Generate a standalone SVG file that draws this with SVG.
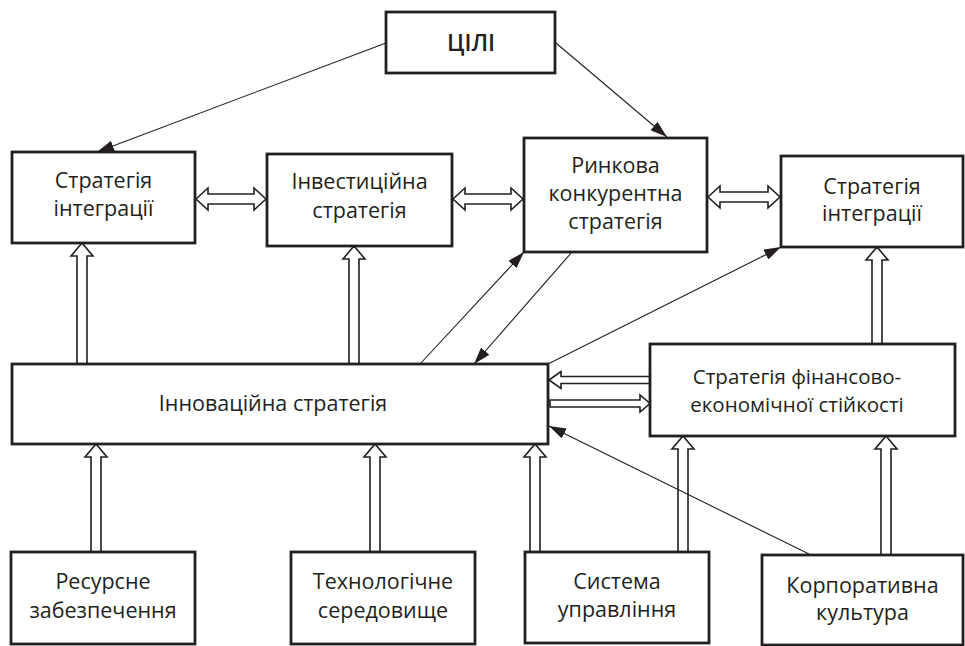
<svg xmlns="http://www.w3.org/2000/svg" width="965" height="646" viewBox="0 0 965 646">
<defs>
<style>
.box{fill:#fff;stroke:#231f20;stroke-width:2.8}
.t{font-family:"Open Sans","Noto Sans","Liberation Sans",sans-serif;font-size:21.5px;fill:#231f20;text-anchor:middle}
.s{font-size:20.5px}
.h{font-weight:600;font-size:23px}
.ha{fill:#fff;stroke:#231f20;stroke-width:1.6;stroke-linejoin:miter}
.ln{fill:none;stroke:#231f20;stroke-width:1.1;marker-end:url(#ah)}
</style>
<marker id="ah" markerUnits="userSpaceOnUse" markerWidth="17" markerHeight="11" refX="17" refY="5.5" orient="auto">
<path d="M0,0 L17,5.5 L0,11 Z" fill="#231f20"/>
</marker>
</defs>
<rect width="965" height="646" fill="#fff"/>
<g id="connectors">
<!-- hollow vertical arrows -->
<path class="ha" d="M77,364 V256 H71 L82,243 L93,256 H87 V364 Z"/>
<path class="ha" d="M349,364 V259 H343 L354,246 L365,259 H359 V364 Z"/>
<path class="ha" d="M872,344 V260 H866 L877,247 L888,260 H882 V344 Z"/>
<path class="ha" d="M91,552 V457 H85 L96,444 L107,457 H101 V552 Z"/>
<path class="ha" d="M370,552 V457 H364 L375,444 L386,457 H380 V552 Z"/>
<path class="ha" d="M530,552 V457 H524 L535,444 L546,457 H540 V552 Z"/>
<path class="ha" d="M678,552 V449 H672 L683,436 L694,449 H688 V552 Z"/>
<path class="ha" d="M881,555 V449 H875 L886,436 L897,449 H891 V555 Z"/>
<!-- hollow double horizontal arrows -->
<path class="ha" d="M196,199 L208,188 V194 H254 V188 L266,199 L254,210 V204 H208 V210 Z"/>
<path class="ha" d="M453,199 L465,188 V194 H511 V188 L523,199 L511,210 V204 H465 V210 Z"/>
<path class="ha" d="M708,197 L720,186 V192 H768 V186 L780,197 L768,208 V202 H720 V208 Z"/>
<!-- innovation / finance arrows -->
<path class="ha" d="M549,380 L561,371.5 V376.5 H650 V383.5 H561 V388.5 Z"/>
<path class="ha" d="M550,400 H640 V395 L650,403.5 L640,412 V407 H550 Z"/>
<!-- thin arrows -->
<line class="ln" x1="386" y1="43" x2="97" y2="152"/>
<line class="ln" x1="556" y1="43" x2="667" y2="137"/>
<line class="ln" x1="420" y1="364" x2="524" y2="252"/>
<line class="ln" x1="572" y1="252" x2="474" y2="364"/>
<line class="ln" x1="548" y1="364" x2="781" y2="247"/>
<line class="ln" x1="809" y1="554" x2="549" y2="426"/>
</g>
<g id="goals"><rect class="box" x="386" y="12" width="169" height="61"/><text class="t h" x="471" y="51">ЦІЛІ</text></g>
<g id="integration1"><rect class="box" x="12" y="152" width="183" height="91"/><text class="t" x="103.5" y="188">Стратегія</text><text class="t" x="103.5" y="216">інтеграції</text></g>
<g id="investment"><rect class="box" x="267" y="154" width="185" height="92"/><text class="t" x="359.5" y="189">Інвестиційна</text><text class="t" x="359.5" y="218">стратегія</text></g>
<g id="market"><rect class="box" x="524" y="138" width="183" height="114"/><text class="t" x="615.5" y="173">Ринкова</text><text class="t" x="615.5" y="201">конкурентна</text><text class="t" x="615.5" y="229">стратегія</text></g>
<g id="integration2"><rect class="box" x="781" y="156" width="182" height="91"/><text class="t" x="872" y="194">Стратегія</text><text class="t" x="872" y="221">інтеграції</text></g>
<g id="innovation"><rect class="box" x="12" y="364" width="536" height="80"/><text class="t" x="273" y="411">Інноваційна стратегія</text></g>
<g id="finance"><rect class="box" x="650" y="344" width="305" height="92"/><text class="t s" x="797" y="384">Стратегія фінансово-</text><text class="t s" x="797" y="412">економічної стійкості</text></g>
<g id="resources"><rect class="box" x="11" y="552" width="184" height="92"/><text class="t" x="103" y="589">Ресурсне</text><text class="t" x="103" y="618">забезпечення</text></g>
<g id="technology"><rect class="box" x="291" y="552" width="184" height="92"/><text class="t" x="383" y="589">Технологічне</text><text class="t" x="383" y="618">середовище</text></g>
<g id="management"><rect class="box" x="525" y="552" width="184" height="91"/><text class="t" x="617" y="589">Система</text><text class="t" x="617" y="617">управління</text></g>
<g id="culture"><rect class="box" x="762" y="555" width="201" height="90"/><text class="t" x="862.5" y="593">Корпоративна</text><text class="t" x="862.5" y="620">культура</text></g>
</svg>
